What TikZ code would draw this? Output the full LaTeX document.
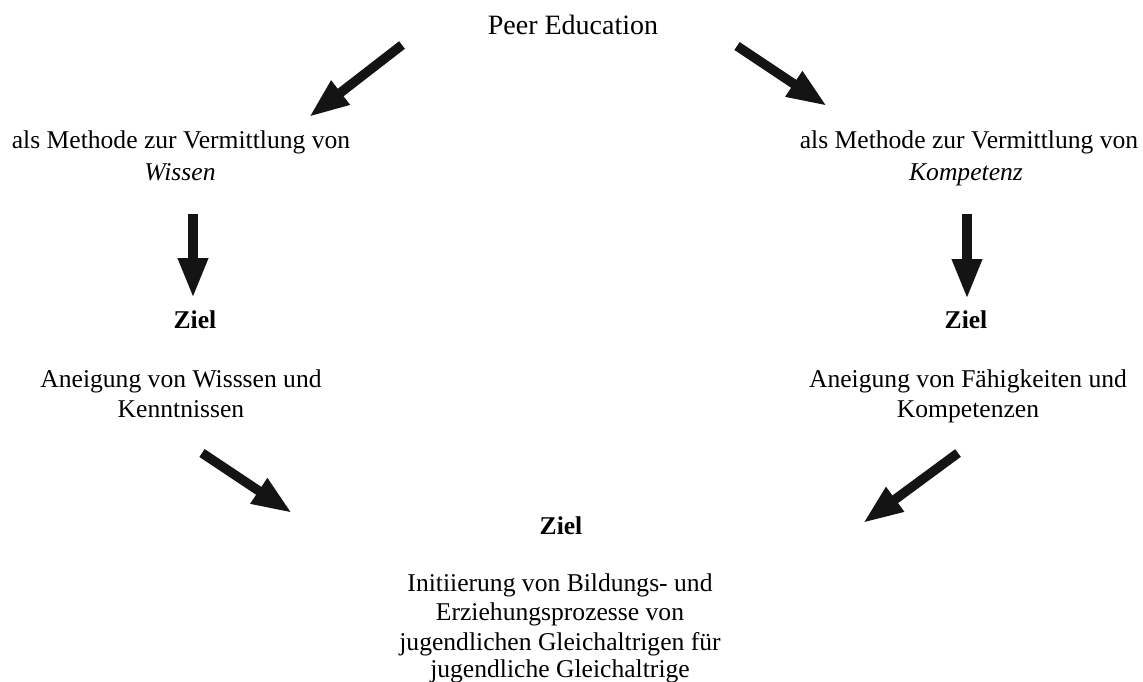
\documentclass[tikz,border=0pt]{standalone}
\usepackage{fontspec}
\setmainfont{Liberation Serif}
\usetikzlibrary{arrows.meta}
\tikzset{
  txt/.style={inner sep=0pt, outer sep=0pt, align=center, anchor=base,
    font=\fontsize{25.6}{29.4}\selectfont},
  bigarrow/.style={line width=9.5pt, color=black!92,
    -{Triangle[length=40pt,width=28pt]}}
}
\begin{document}
\begin{tikzpicture}[x=1pt,y=-1pt]
\useasboundingbox[fill=white] (0,0) rectangle (1143,681);
% texts
\node[txt, font=\fontsize{28}{32}\selectfont] (peer) at (573,34) {Peer Education};
\node[txt] (ml1) at (181,148) {als Methode zur Vermittlung von};
\node[txt] (ml2) at (180,180) {\itshape Wissen};
\node[txt] (mr1) at (969,148) {als Methode zur Vermittlung von};
\node[txt] (mr2) at (966,180) {\itshape Kompetenz};
\node[txt] (zl) at (195,328) {\bfseries Ziel};
\node[txt] (zr) at (966,328) {\bfseries Ziel};
\node[txt] (al1) at (181,387) {Aneigung von Wisssen und};
\node[txt] (al2) at (181,417) {Kenntnissen};
\node[txt] (ar1) at (968,387) {Aneigung von Fähigkeiten und};
\node[txt] (ar2) at (968,417) {Kompetenzen};
\node[txt] (zb) at (561,534) {\bfseries Ziel};
\node[txt] (b1) at (560,591) {Initiierung von Bildungs- und};
\node[txt] (b2) at (560,620) {Erziehungsprozesse von};
\node[txt] (b3) at (560,650) {jugendlichen Gleichaltrigen für};
\node[txt] (b4) at (560,677) {jugendliche Gleichaltrige};
% arrow end points
\coordinate (a1s) at (402,45);  \coordinate (a1e) at (309,117);
\coordinate (a2s) at (737,46);  \coordinate (a2e) at (827,106);
\coordinate (a3s) at (193,214); \coordinate (a3e) at (193,298);
\coordinate (a4s) at (967,214); \coordinate (a4e) at (967,299);
\coordinate (a5s) at (202,453); \coordinate (a5e) at (292,513);
\coordinate (a6s) at (958,453); \coordinate (a6e) at (863,523);
\draw[bigarrow] (a1s) -- (a1e);
\draw[bigarrow] (a2s) -- (a2e);
\draw[bigarrow] (a3s) -- (a3e);
\draw[bigarrow] (a4s) -- (a4e);
\draw[bigarrow] (a5s) -- (a5e);
\draw[bigarrow] (a6s) -- (a6e);
\end{tikzpicture}
\end{document}
